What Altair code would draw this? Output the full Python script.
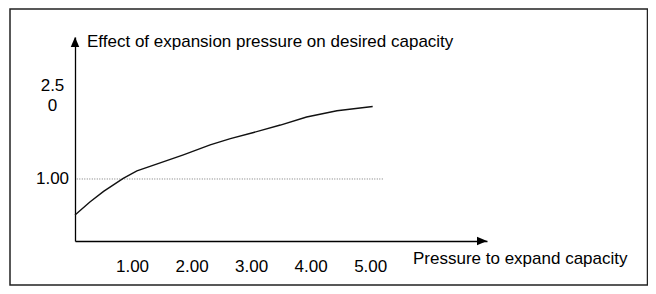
import altair as alt
import pandas as pd

# ---- data ----
pressure = [0.0, 0.25, 0.48, 0.81, 1.04, 1.37, 1.82, 2.27, 2.61, 3.0, 3.45, 3.89, 4.40, 5.0]
effect = [0.42, 0.63, 0.80, 1.01, 1.13, 1.24, 1.39, 1.55, 1.65, 1.75, 1.87, 2.00, 2.10, 2.17]

x_ticks = [1, 2, 3, 4, 5]
y_tick_values = [2.5, 1.0]
y_tick_labels = ["2.5\n0", "1.00"]   # the top label is wrapped in the original

reference_level = [1.0]
reference_start = [0.03]
reference_end = [5.17]

x_max = 6.92   # end of the arrowed x axis
y_max = 3.29   # end of the arrowed y axis

y_title = "Effect of expansion pressure on desired capacity"
x_title = "Pressure to expand capacity"

FONT = "Liberation Sans"
FS = 17

xscale = alt.Scale(domain=[0, x_max], nice=False, zero=False)
yscale = alt.Scale(domain=[0, y_max], nice=False, zero=False)

x_axis = alt.Axis(values=x_ticks, format=".2f", title=None, grid=False, ticks=False, tickSize=0,
                  domain=True, domainColor="black", domainWidth=1.3,
                  labelFont=FONT, labelFontSize=FS, labelColor="black",
                  labelBaseline="alphabetic", labelPadding=30.5, labelOffset=-2.5,
                  labelAlign="center", labelFlush=False, labelOverlap=False)
y_axis = alt.Axis(title=None, grid=False, ticks=False, tickSize=0, labels=False,
                  domain=True, domainColor="black", domainWidth=1.3)


def X(field):
    return alt.X(field, type="quantitative", scale=xscale, axis=x_axis)


def Y(field):
    return alt.Y(field, type="quantitative", scale=yscale, axis=y_axis)


curve_df = pd.DataFrame({"pressure": pressure, "effect": effect})

line = alt.Chart(curve_df).mark_line(color="#111111", strokeWidth=1.4).encode(
    x=X("pressure"), y=Y("effect")
)

ref_df = pd.DataFrame({"x0": reference_start, "x1": reference_end, "level": reference_level})
ref_rule = alt.Chart(ref_df).mark_rule(color="#777777", strokeWidth=1, strokeDash=[1, 1.5]).encode(
    x=X("x0"), x2="x1", y=Y("level")
)

arrow_df = pd.DataFrame({
    "ax": [x_max, 0.0],
    "ay": [0.0, y_max],
    "shape": ["M0,0L-2,-0.85L-2,0.85Z", "M0,0L0.85,2L-0.85,2Z"],
})
arrows = alt.Chart(arrow_df).mark_point(filled=True, color="black", opacity=1, size=100).encode(
    x=X("ax"), y=Y("ay"), shape=alt.Shape("shape:N", scale=None)
)

ylab_df = pd.DataFrame({"value": y_tick_values, "label": y_tick_labels})
ylabels = alt.Chart(ylab_df).mark_text(
    align="center", baseline="middle", lineBreak="\n", lineHeight=20,
    font=FONT, fontSize=FS, color="black"
).encode(x=alt.value(-22.5), y=Y("value"), text="label:N")

ytitle = alt.Chart(pd.DataFrame({"t": [y_title]})).mark_text(
    align="left", baseline="alphabetic", font=FONT, fontSize=FS, color="black"
).encode(x=alt.value(12), y=alt.value(10), text="t:N")

xtitle = alt.Chart(pd.DataFrame({"t": [x_title]})).mark_text(
    align="left", baseline="alphabetic", font=FONT, fontSize=FS, color="black"
).encode(x=alt.value(338), y=alt.value(227), text="t:N")

frame = alt.Chart(pd.DataFrame({"k": [0]})).mark_rect(
    filled=False, stroke="#222222", strokeWidth=1.5
).encode(x=alt.value(-65), x2=alt.value(572.5), y=alt.value(-28), y2=alt.value(248))

chart = alt.layer(frame, ref_rule, line, arrows, ylabels, ytitle, xtitle).properties(
    width=412, height=204,
    padding={"left": 67, "top": 29, "right": 161, "bottom": 45},
    autosize=alt.AutoSizeParams(type="none"),
    background="white",
).configure_view(stroke=None)

chart.save("out.html", embed_options={"renderer": "svg", "actions": False})
